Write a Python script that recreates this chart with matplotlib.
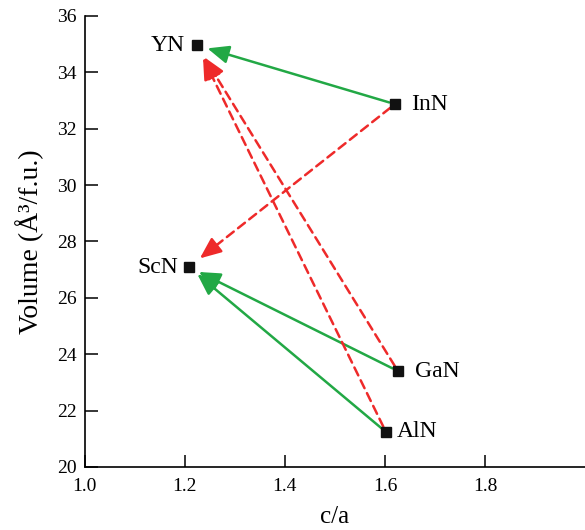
import matplotlib
matplotlib.use("Agg")
import matplotlib.pyplot as plt
import numpy as np

plt.rcParams['font.family'] = ['Liberation Serif', 'DejaVu Serif']

# data
names = ["YN", "InN", "ScN", "GaN", "AlN"]
ca = [1.224, 1.620, 1.208, 1.626, 1.602]
vol = [34.96, 32.87, 27.09, 23.40, 21.24]

# arrows (from, to)
green_arrows = [("InN", "YN"), ("GaN", "ScN"), ("AlN", "ScN")]
red_arrows = [("InN", "ScN"), ("GaN", "YN"), ("AlN", "YN")]

xticks = [1.0, 1.2, 1.4, 1.6, 1.8]
yticks = [20, 22, 24, 26, 28, 30, 32, 34, 36]

pos = {n: (x, y) for n, x, y in zip(names, ca, vol)}

fig = plt.figure(figsize=(5.85, 5.3), dpi=100)
ax = fig.add_axes([0.145, 0.119, 0.855, 0.851])
ax.set_xlim(1.0, 2.0)
ax.set_ylim(20, 36)

green = "#22a845"
red = "#ee2a2a"
head = "-|>,head_length=1.3,head_width=0.55"


def draw_arrow(a, b, color, dashed, gap_px):
    # work in figure pixels so the head can be drawn solid on a dashed shaft
    p0 = ax.transData.transform(pos[a])
    p1 = ax.transData.transform(pos[b])
    u = (p1 - p0) / np.hypot(*(p1 - p0))
    start = p0 + u * 6
    tip = p1 - u * gap_px
    back = tip - u * 20
    ls = (0, (3.5, 2.2)) if dashed else "-"
    ax.annotate("", xy=back, xytext=start, xycoords="figure pixels",
                textcoords="figure pixels",
                arrowprops=dict(arrowstyle="-", color=color, lw=1.8,
                                linestyle=ls, shrinkA=0, shrinkB=0))
    ax.annotate("", xy=tip, xytext=back - u * 2, xycoords="figure pixels",
                textcoords="figure pixels",
                arrowprops=dict(arrowstyle=head, color=color, lw=1.8,
                                shrinkA=0, shrinkB=0))


for a, b in green_arrows:
    draw_arrow(a, b, green, False, 11)
for a, b in red_arrows:
    draw_arrow(a, b, red, True, 14)

ax.plot(ca, vol, "s", color="#111111", ms=7, zorder=5)

offsets = {"YN": (-9, "right"), "InN": (12, "left"), "ScN": (-8, "right"),
           "GaN": (12, "left"), "AlN": (8, "left")}
for n in names:
    dx, ha = offsets[n]
    ax.annotate(n, pos[n], xytext=(dx, 0), textcoords="offset points",
                ha=ha, va="center", fontsize=17)

ax.set_xticks(xticks)
ax.set_yticks(yticks)
ax.set_xticklabels([f"{t:.1f}" for t in xticks])
ax.tick_params(direction="in", length=9, width=1.1, labelsize=14)
ax.tick_params(axis="y", pad=6)
ax.tick_params(axis="x", pad=8)
ax.spines["top"].set_visible(False)
ax.spines["right"].set_visible(False)
for s in ["left", "bottom"]:
    ax.spines[s].set_linewidth(1.2)

ax.set_xlabel("c/a", fontsize=18, labelpad=8)
ax.set_ylabel("Volume (Å³/f.u.)", fontsize=20, labelpad=9)

fig.savefig("out.png", dpi=100)
